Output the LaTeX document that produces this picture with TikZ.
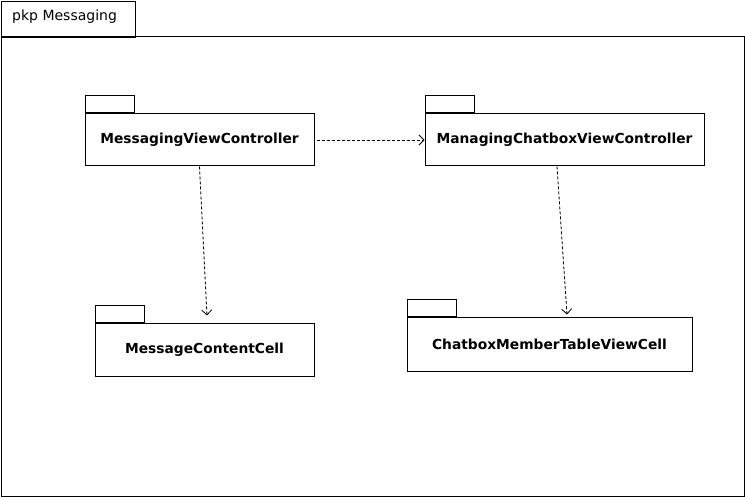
\documentclass[tikz,border=0pt]{standalone}
\usepackage{fontspec}
\setmainfont{DejaVu Sans}
\usetikzlibrary{arrows.meta,positioning}
\begin{document}
\begin{tikzpicture}[x=1pt,y=-1pt,
  pkgbody/.style={draw,line width=1pt,minimum height=52pt,inner sep=0pt,font=\bfseries\fontsize{13.8}{16}\selectfont},
  pkgtab/.style={draw,line width=1pt,minimum width=49pt,minimum height=17pt,inner sep=0pt,anchor=south west},
  dep/.style={dashed,dash pattern=on 3pt off 2pt,line width=0.8pt,-{Straight Barb[length=5pt,width=10pt]}}]
\useasboundingbox (0,0) rectangle (745,497);
\fill[white] (0,0) rectangle (745,497);
% outer frame
\draw[line width=1pt] (1,37) rectangle (744,496);
\node[draw,line width=1pt,anchor=north west,minimum width=134pt,minimum height=36pt,inner sep=0pt] (frametab) at (1,1) {};
\node[anchor=west,inner sep=0pt,font=\fontsize{14}{16}\selectfont] (framelbl) at (12,17) {pkp Messaging};
% packages
\node[pkgbody,minimum width=229pt] (mvc) at (199.5,140) {MessagingViewController};
\node[pkgtab] (mvctab) at (mvc.north west) {};
\node[pkgbody,minimum width=279pt] (mcvc) at (564.5,140) {ManagingChatboxViewController};
\node[pkgtab] (mcvctab) at (mcvc.north west) {};
\node[pkgbody,minimum width=219pt] (mcc) at (204.5,350) {MessageContentCell};
\node[pkgtab] (mcctab) at (mcc.north west) {};
\node[pkgbody,minimum width=285pt,minimum height=53pt] (cmc) at (549.5,344.5) {ChatboxMemberTableViewCell};
\node[pkgtab] (cmctab) at (cmc.north west) {};
% dependencies
\coordinate (a1) at ([xshift=2pt]mvc.east);
\draw[dep] (a1) -- (mcvc.west);
\coordinate (b1) at (mvc.south);
\coordinate (b2) at ([xshift=2.5pt,yshift=8pt]mcc.north);
\draw[dep] (b1) -- (b2);
\coordinate (c1) at ([xshift=-7.5pt]mcvc.south);
\coordinate (c2) at ([xshift=17.5pt,yshift=3pt]cmc.north);
\draw[dep] (c1) -- (c2);
\end{tikzpicture}
\end{document}
